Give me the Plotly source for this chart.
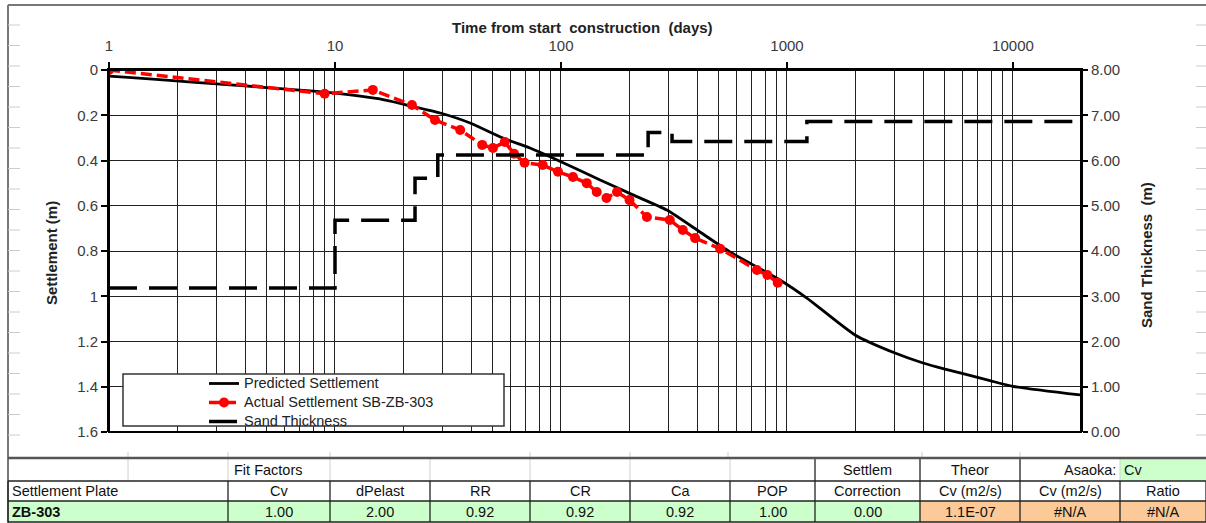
import plotly.graph_objects as go

# ---------------- data ----------------
pred_t = [1, 10, 15.8, 20.8, 29.2, 39.6, 55.4, 72.9, 92, 149, 208, 294, 412, 559, 931,
          1225, 2000, 3006, 4000, 5000, 6010, 7910, 10000, 19800]
pred_s = [0.027, 0.102, 0.128, 0.155, 0.190, 0.234, 0.301, 0.345, 0.389, 0.486, 0.552,
          0.619, 0.716, 0.804, 0.928, 1.008, 1.171, 1.251, 1.295, 1.322, 1.342, 1.373,
          1.398, 1.436]

act_t = [1, 9.0, 14.7, 21.9, 27.7, 35.8, 44.8, 50, 56.4, 62, 69, 83, 97, 113, 130, 144,
         159, 177, 201, 240, 303, 346, 392, 506, 736, 819, 910]
act_s = [0.0, 0.105, 0.088, 0.155, 0.221, 0.265, 0.331, 0.345, 0.318, 0.37, 0.41, 0.42,
         0.45, 0.473, 0.50, 0.539, 0.566, 0.539, 0.575, 0.65, 0.663, 0.707, 0.743, 0.79,
         0.884, 0.906, 0.94]

sand_t = [1, 10, 22.6, 28.5, 243, 310, 1225, 20000]
sand_h = [3.18, 4.68, 5.61, 6.12, 6.62, 6.42, 6.86, 6.86]

x_ticks = [1, 10, 100, 1000, 10000]
y_ticks = [0, 0.2, 0.4, 0.6, 0.8, 1, 1.2, 1.4, 1.6]
y2_ticks = [0, 1, 2, 3, 4, 5, 6, 7, 8]

tbl_cols = [8, 228, 330, 430, 530, 630, 730, 815, 920, 1020, 1120, 1206]
row1_text = ["", "Fit Factors", "", "", "", "", "", "Settlem", "Theor", "Asaoka:", "Cv"]
row2_text = ["Settlement Plate", "Cv", "dPelast", "RR", "CR", "Ca", "POP", "Correction",
             "Cv (m2/s)", "Cv (m2/s)", "Ratio"]
row3_text = ["ZB-303", "1.00", "2.00", "0.92", "0.92", "0.92", "1.00", "0.00", "1.1E-07",
             "#N/A", "#N/A"]

# ---------------- geometry helpers ----------------
W, H = 1206, 523
L, R, T, B = 109, 1081, 70, 432


def X(px):
    return (px - L) / (R - L)


def Y(py):
    return (B - py) / (B - T)


FONT = "Liberation Sans, Arial, sans-serif"
TICK_COLOR = "#3a3a3a"


def legend_name(s):
    return f'<span style="font-size:14.5px">{s}</span>'


fig = go.Figure()

fig.add_trace(go.Scatter(
    x=pred_t, y=pred_s, mode="lines", name=legend_name("Predicted Settlement"),
    line=dict(color="black", width=2.8, shape="spline", smoothing=0.6)))

fig.add_trace(go.Scatter(
    x=act_t, y=act_s, mode="lines+markers",
    name=legend_name("Actual Settlement SB-ZB-303"),
    line=dict(color="#ff0000", width=3.5, dash="11px,5px"),
    marker=dict(color="#ff0000", size=10, symbol="circle")))

fig.add_trace(go.Scatter(
    x=sand_t, y=sand_h, mode="lines", name=legend_name("Sand Thickness"), yaxis="y2",
    line=dict(color="black", width=3.5, dash="28px,12px", shape="hv")))

axis_line = dict(showline=True, linecolor="black", linewidth=2, mirror=False)
tickfont = dict(family=FONT, size=15, color=TICK_COLOR)

fig.update_layout(
    width=W, height=H,
    margin=dict(l=L, r=W - R, t=T, b=H - B),
    paper_bgcolor="white", plot_bgcolor="white",
    font=dict(family=FONT, size=15, color=TICK_COLOR),
    showlegend=True,
    legend=dict(x=X(204), y=Y(369), xanchor="left", yanchor="top",
                bgcolor="rgba(0,0,0,0)", borderwidth=0,
                font=dict(family=FONT, size=11.2, color="#222222"),
                tracegroupgap=0, itemsizing="trace"),
    xaxis=dict(type="log", range=[0, 4.301], side="top",
               tickvals=x_ticks, ticktext=[str(v) for v in x_ticks], tickfont=tickfont,
               ticks="outside", ticklen=6, tickcolor="black", tickwidth=1.5,
               ticklabelstandoff=5,
               showgrid=True, gridcolor="#222222", gridwidth=1.3,
               minor=dict(dtick="D1", showgrid=True, gridcolor="#222222", gridwidth=1.3,
                          ticks=""),
               zeroline=False, **axis_line),
    yaxis=dict(range=[1.6, 0], tickvals=y_ticks, ticktext=[f"{v:g}" for v in y_ticks],
               tickfont=tickfont,
               ticks="outside", ticklen=6, tickcolor="black", tickwidth=1.5,
               showgrid=True, gridcolor="#222222", gridwidth=1.3, zeroline=False,
               **axis_line),
    yaxis2=dict(range=[0, 8], overlaying="y", side="right", tickvals=y2_ticks,
                ticktext=[f"{v:.2f}" for v in y2_ticks], tickfont=tickfont,
                ticks="outside", ticklen=5, tickcolor="black", tickwidth=1.5,
                showgrid=False, zeroline=False, **axis_line),
)

shapes = []
annotations = []

# plot frame
shapes.append(dict(type="rect", xref="paper", yref="paper", x0=0, x1=1, y0=0, y1=1,
                   line=dict(color="black", width=2), layer="above"))

# legend box
shapes.append(dict(type="rect", xref="paper", yref="paper", x0=X(123), x1=X(504),
                   y0=Y(426), y1=Y(374), line=dict(color="#333333", width=1.5),
                   fillcolor="white", layer="above"))


def label(text, px, py, size=15, angle=0, color="#222222", xa="center"):
    annotations.append(dict(text=text, xref="paper", yref="paper", x=X(px), y=Y(py),
                            xanchor=xa, yanchor="middle", showarrow=False,
                            textangle=angle,
                            font=dict(family=FONT, size=size, color=color)))


# axis titles
label("<b>Time from start  construction  (days)</b>", 582, 28)
label("<b>Settlement (m)</b>", 51, 253, angle=-90)
label("<b>Sand Thickness  (m)</b>", 1146, 255, angle=-90)

# spreadsheet frame
shapes.append(dict(type="line", xref="paper", yref="paper", x0=X(8), x1=X(1206),
                   y0=Y(5), y1=Y(5), line=dict(color="#777777", width=2)))
shapes.append(dict(type="line", xref="paper", yref="paper", x0=X(8), x1=X(8),
                   y0=Y(5), y1=Y(523), line=dict(color="#777777", width=2)))
py = 25
while py < 455:
    shapes.append(dict(type="line", xref="paper", yref="paper", x0=X(8), x1=X(20),
                       y0=Y(py), y1=Y(py), line=dict(color="#cccccc", width=1)))
    shapes.append(dict(type="line", xref="paper", yref="paper", x0=X(1196), x1=X(1206),
                       y0=Y(py), y1=Y(py), line=dict(color="#cccccc", width=1)))
    py += 20.5
for px in [128, 228, 330, 530, 630, 728, 922, 1020]:
    shapes.append(dict(type="line", xref="paper", yref="paper", x0=X(px), x1=X(px),
                       y0=Y(452), y1=Y(458), line=dict(color="#cccccc", width=1)))

# ---------------- table ----------------
r0, r1, r2, r3 = 458, 481, 501, 522
GREEN = "#ccffcc"
ORANGE = "#fcc998"

shapes.append(dict(type="rect", xref="paper", yref="paper", x0=X(8), x1=X(920),
                   y0=Y(r3), y1=Y(r2), fillcolor=GREEN, line=dict(width=0), layer="below"))
shapes.append(dict(type="rect", xref="paper", yref="paper", x0=X(920), x1=X(1206),
                   y0=Y(r3), y1=Y(r2), fillcolor=ORANGE, line=dict(width=0), layer="below"))
shapes.append(dict(type="rect", xref="paper", yref="paper", x0=X(1120), x1=X(1206),
                   y0=Y(r1), y1=Y(r0), fillcolor=GREEN, line=dict(width=0), layer="below"))

for cx in [128] + tbl_cols[1:7] + [1120]:
    shapes.append(dict(type="line", xref="paper", yref="paper", x0=X(cx), x1=X(cx),
                       y0=Y(r0), y1=Y(r1), line=dict(color="#d0d0d0", width=1)))
for cx in [815, 920, 1020]:
    shapes.append(dict(type="line", xref="paper", yref="paper", x0=X(cx), x1=X(cx),
                       y0=Y(r0), y1=Y(r1), line=dict(color="#222222", width=1.3)))
for cx in tbl_cols:
    shapes.append(dict(type="line", xref="paper", yref="paper", x0=X(cx), x1=X(cx),
                       y0=Y(r1), y1=Y(r3), line=dict(color="#222222", width=1.3)))
shapes.append(dict(type="line", xref="paper", yref="paper", x0=X(8), x1=X(1206),
                   y0=Y(r0), y1=Y(r0), line=dict(color="#555555", width=2.5)))
for ry in [r1, r2, r3]:
    shapes.append(dict(type="line", xref="paper", yref="paper", x0=X(8), x1=X(1206),
                       y0=Y(ry), y1=Y(ry), line=dict(color="#222222", width=1.3)))

TSIZE = 14.5


def cell_text(txt, ci, ry, bold=False, align="center"):
    if not txt:
        return
    x0, x1 = tbl_cols[ci], tbl_cols[ci + 1]
    if align == "center":
        xp = (x0 + x1) / 2
    elif align == "left":
        xp = x0 + 2
    else:
        xp = x1 - 2
    label(f"<b>{txt}</b>" if bold else txt, xp, ry, size=TSIZE, color="#111111", xa=align)


rc1, rc2, rc3 = 470, 491, 512
for i, t in enumerate(row1_text):
    if i == 1:
        label(t, 268, rc1, size=TSIZE, color="#111111")
    elif i == 9:
        cell_text(t, i, rc1, align="right")
    elif i == 10:
        cell_text(t, i, rc1, align="left")
    else:
        cell_text(t, i, rc1)
for i, t in enumerate(row2_text):
    cell_text(t, i, rc2, align="left" if i == 0 else "center")
for i, t in enumerate(row3_text):
    cell_text(t, i, rc3, bold=(i == 0), align="left" if i == 0 else "center")

fig.update_layout(shapes=shapes, annotations=annotations)

fig.write_html("out.html")
